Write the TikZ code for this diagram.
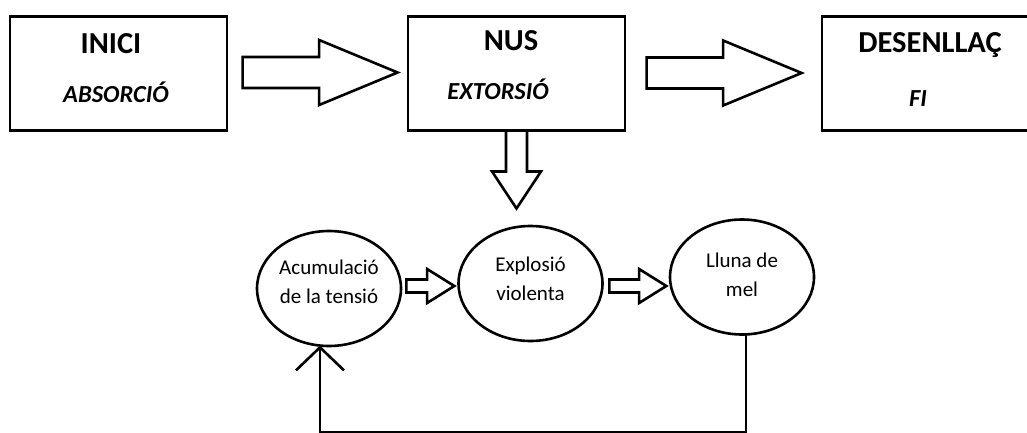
\documentclass[tikz,border=0pt]{standalone}
\usepackage{fontspec}
\setmainfont{Carlito}
\usetikzlibrary{shapes.geometric, shapes.arrows, arrows.meta, positioning}
\tikzset{
    stagebox/.style={rectangle, draw=black, line width=2.6pt, minimum width=217pt, minimum height=114pt, inner sep=0pt, outer sep=0pt},
    phasebox/.style={ellipse, draw=black, line width=2.6pt, minimum width=144pt, minimum height=115pt, inner sep=0pt, outer sep=0pt},
    stagetitle/.style={anchor=base, inner sep=0pt, font=\fontsize{30.5}{33}\selectfont\bfseries},
    stagesub/.style={anchor=base, inner sep=0pt, font=\fontsize{24.5}{27}\selectfont\bfseries\itshape},
    phasetext/.style={align=center, inner sep=0pt, font=\fontsize{21}{29}\selectfont},
    blockarrow/.style={single arrow, draw=black, fill=white, line width=2.6pt, inner xsep=0pt, outer sep=0pt, anchor=tail},
    bigarrow/.style={blockarrow, inner ysep=14.2pt, single arrow head extend=17pt, single arrow tip angle=45, minimum height=155pt},
    downarrow/.style={blockarrow, inner ysep=9.2pt, single arrow head extend=14pt, single arrow tip angle=67, minimum height=78pt, rotate=-90},
    smallarrow/.style={blockarrow, inner ysep=5.2pt, single arrow head extend=10.5pt, single arrow tip angle=64, minimum height=#1},
    feedback/.style={line width=2.6pt, -{Straight Barb[length=23pt, width=48pt]}},
}

\begin{document}
\begin{tikzpicture}[x=1pt, y=1pt]
\useasboundingbox (0,0) rectangle (1027,432);

% Story parts
\node[stagebox] (inici) at (118.5,358.5) {};
\node[stagebox, right=181pt of inici] (nus) {};
\node[stagebox, right=197pt of nus] (desenllac) {};

\node[stagetitle] (inici-title) at ([xshift=-7.5pt, yshift=-36.7pt]inici.north) {INICI};
\node[stagesub] (inici-sub) at ([xshift=-2.5pt, yshift=-85.7pt]inici.north) {ABSORCIÓ};
\node[stagetitle] (nus-title) at ([xshift=-5.5pt, yshift=-34.2pt]nus.north) {NUS};
\node[stagesub] (nus-sub) at ([xshift=-18.5pt, yshift=-83.2pt]nus.north) {EXTORSIÓ};
\node[stagetitle] (desenllac-title) at ([xshift=-0.5pt, yshift=-35.7pt]desenllac.north) {DESENLLAÇ};
\node[stagesub] (desenllac-sub) at ([xshift=-12.5pt, yshift=-89.7pt]desenllac.north) {FI};

% Block arrows
\node[bigarrow] (a1) at ([xshift=15.6pt, yshift=1pt]inici.east) {};
\node[bigarrow] (a2) at ([xshift=21.6pt, yshift=0.5pt]nus.east) {};
\node[downarrow] (a3) at (nus.south) {};

% Cycle
\node[phasebox] (acum) at (329,143.5) {};
\node[phasebox] (explosio) at (530.5,148.5) {};
\node[phasebox] (lluna) at (742,155) {};

\node[phasetext] (acum-text) at ([yshift=6.5pt]acum.center) {Acumulació\\de la tensió};
\node[phasetext] (explosio-text) at ([yshift=4.7pt]explosio.center) {Explosió\\violenta};
\node[phasetext] (lluna-text) at ([yshift=2.2pt]lluna.center) {Lluna de\\mel};

\node[smallarrow=48pt] (s1) at ([xshift=5.3pt, yshift=2.5pt]acum.east) {};
\node[smallarrow=57pt] (s2) at ([xshift=6.8pt, yshift=-2.5pt]explosio.east) {};

% Back to the start
\coordinate (loop-bottom) at (0,0);
\draw[feedback] (lluna.274) |- (loop-bottom -| acum.261) -- (acum.261);

\end{tikzpicture}
\end{document}
